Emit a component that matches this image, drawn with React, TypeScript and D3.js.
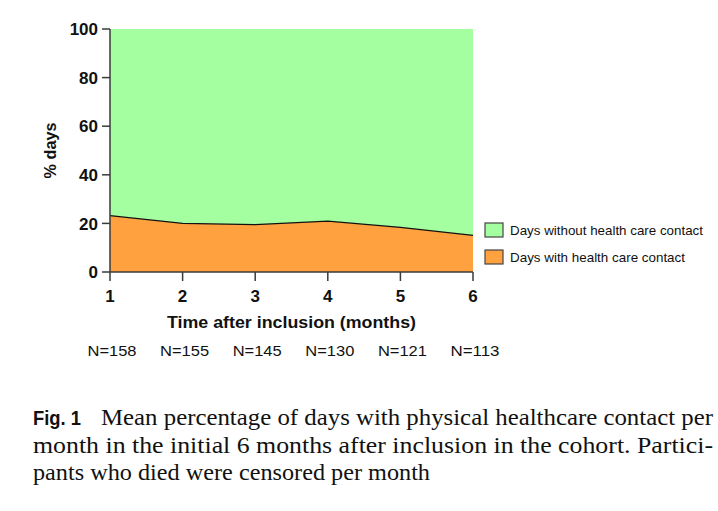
import React from "react";
import * as d3 from "d3";

const months = [1, 2, 3, 4, 5, 6];
const withContact = [23.2, 20.0, 19.5, 20.9, 18.4, 15.1];
const yTicks = [0, 20, 40, 60, 80, 100];
const nLabels = ["N=158", "N=155", "N=145", "N=130", "N=121", "N=113"];
const legendItems = [
  { label: "Days without health care contact", color: "#a4ffa0", len: 193 },
  { label: "Days with health care contact", color: "#ffa13f", len: 175 },
];
const captionBold = "Fig. 1";
const captionLines = [
  "Mean percentage of days with physical healthcare contact per",
  "month in the initial 6 months after inclusion in the cohort. Partici-",
  "pants who died were censored per month",
];

export default function App() {
  const W = 718, H = 511;
  const x = d3.scaleLinear().domain([1, 6]).range([110, 473]);
  const y = d3.scaleLinear().domain([0, 100]).range([272, 29]);
  const data = months.map((m, i) => ({ m, v: withContact[i] }));
  const orange = d3.area<{ m: number; v: number }>()
    .x((d) => x(d.m)).y0(y(0)).y1((d) => y(d.v))(data) || "";
  const green = d3.area<{ m: number; v: number }>()
    .x((d) => x(d.m)).y0((d) => y(d.v)).y1(y(100))(data) || "";
  const line = d3.line<{ m: number; v: number }>()
    .x((d) => x(d.m)).y((d) => y(d.v))(data) || "";
  const axisColor = "#3a3a3a";
  const sans = "Liberation Sans, Arial, sans-serif";
  const serif = "Liberation Serif, Times New Roman, serif";
  return (
    <svg width={W} height={H} style={{ position: "absolute", left: 0, top: 0, background: "#fff" }}>
      <rect width={W} height={H} fill="#fff" />
      <path d={green} fill={legendItems[0].color} />
      <path d={orange} fill={legendItems[1].color} />
      <path d={line} fill="none" stroke="#111" strokeWidth={1.2} />
      {/* y axis */}
      <line x1={x(1)} x2={x(1)} y1={y(100)} y2={y(0)} stroke={axisColor} strokeWidth={1.5} />
      {yTicks.map((t) => (
        <g key={t}>
          <line x1={x(1) - 8} x2={x(1)} y1={y(t)} y2={y(t)} stroke={axisColor} strokeWidth={1.5} />
          <text x={x(1) - 12} y={y(t)} dy="0.36em" textAnchor="end" fontFamily={sans} fontWeight="bold" fontSize={17} fill="#111">{t}</text>
        </g>
      ))}
      {/* x axis */}
      <line x1={x(1)} x2={x(6)} y1={y(0)} y2={y(0)} stroke={axisColor} strokeWidth={1.5} />
      {months.map((m, i) => (
        <g key={m}>
          <line x1={x(m)} x2={x(m)} y1={y(0)} y2={y(0) + 9} stroke={axisColor} strokeWidth={1.5} />
          <text x={x(m)} y={302} textAnchor="middle" fontFamily={sans} fontWeight="bold" fontSize={17} fill="#111">{m}</text>
          <text x={x(m) + 2} y={356} textAnchor="middle" fontFamily={sans} fontSize={14.5} fill="#111" textLength={49} lengthAdjust="spacingAndGlyphs">{nLabels[i]}</text>
        </g>
      ))}
      <text x={(x(1) + x(6)) / 2} y={328} textAnchor="middle" fontFamily={sans} fontWeight="bold" fontSize={16.5} fill="#111" textLength={249} lengthAdjust="spacingAndGlyphs">Time after inclusion (months)</text>
      <text transform={`translate(56,${(y(0) + y(100)) / 2}) rotate(-90)`} textAnchor="middle" fontFamily={sans} fontWeight="bold" fontSize={16.5} fill="#111" textLength={56} lengthAdjust="spacingAndGlyphs">% days</text>
      {/* legend */}
      {legendItems.map((it, i) => (
        <g key={it.label} transform={`translate(485,${223 + i * 27})`}>
          <rect width={18} height={14} fill={it.color} stroke="#444" strokeWidth={1.2} />
          <text x={25} y={7} dy="0.36em" fontFamily={sans} fontSize={13} fill="#111" textLength={it.len} lengthAdjust="spacingAndGlyphs">{it.label}</text>
        </g>
      ))}
      {/* caption */}
      <text x={33} y={425} fontFamily={sans} fontWeight="bold" fontSize={21} fill="#111" textLength={48} lengthAdjust="spacingAndGlyphs">{captionBold}</text>
      <text x={101} y={425} fontFamily={serif} fontSize={23.5} fill="#111" textLength={612} lengthAdjust="spacingAndGlyphs">{captionLines[0]}</text>
      <text x={33} y={453} fontFamily={serif} fontSize={23.5} fill="#111" textLength={680} lengthAdjust="spacingAndGlyphs">{captionLines[1]}</text>
      <text x={33} y={480} fontFamily={serif} fontSize={23.5} fill="#111" textLength={397} lengthAdjust="spacingAndGlyphs">{captionLines[2]}</text>
    </svg>
  );
}
